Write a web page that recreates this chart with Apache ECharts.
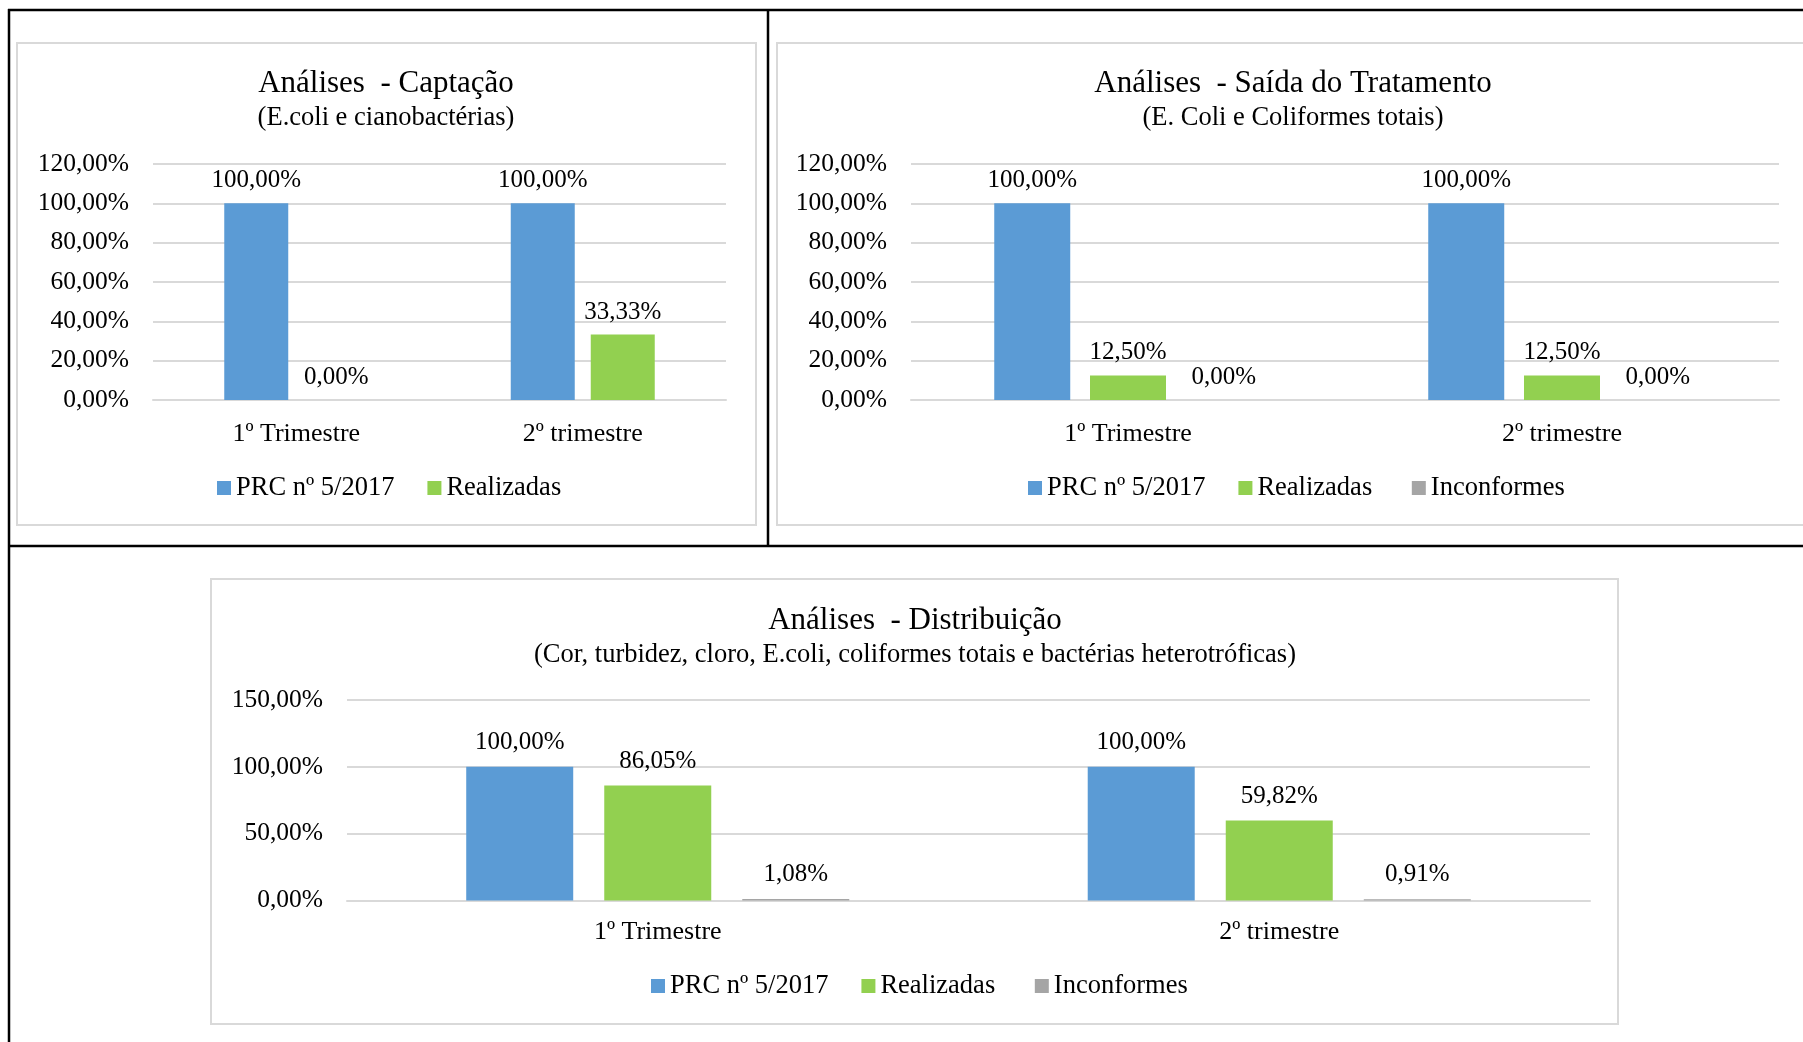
<!DOCTYPE html>
<html>
<head>
<meta charset="utf-8">
<script src="https://cdn.jsdelivr.net/npm/echarts@6/dist/echarts.min.js"></script>
<style>
html,body{margin:0;padding:0;background:#fff;}
#c{width:1803px;height:1042px;}
</style>
</head>
<body>
<div id="c"></div>
<script>
// ---- data ----
const categories = ['1º Trimestre', '2º trimestre'];
const seriesNames = ['PRC nº 5/2017', 'Realizadas', 'Inconformes'];

const captacaoPRC = [1.0, 1.0];
const captacaoRealizadas = [0.0, 0.3333];

const saidaPRC = [1.0, 1.0];
const saidaRealizadas = [0.125, 0.125];
const saidaInconformes = [0.0, 0.0];

const distPRC = [1.0, 1.0];
const distRealizadas = [0.8605, 0.5982];
const distInconformes = [0.0108, 0.0091];

const titles = ['Análises  - Captação', 'Análises  - Saída do Tratamento', 'Análises  - Distribuição'];
const subtitles = ['(E.coli e cianobactérias)', '(E. Coli e Coliformes totais)', '(Cor, turbidez, cloro, E.coli, coliformes totais e bactérias heterotróficas)'];

// ---- styling ----
const FONT = '"Liberation Serif", "Times New Roman", serif';
const COLORS = ['#5b9bd5', '#92d050', '#a5a5a5'];
const GRID = '#d9d9d9';
const pct = v => (v * 100).toFixed(2).replace('.', ',') + '%';

const chart = echarts.init(document.getElementById('c'), null, {renderer: 'canvas'});

function yAxis(gi, max, interval) {
  return {
    type: 'value', gridIndex: gi, min: 0, max: max, interval: interval,
    axisLine: {show: false}, axisTick: {show: false},
    splitLine: {lineStyle: {color: GRID, width: 2}},
    axisLabel: {formatter: pct, fontFamily: FONT, fontSize: 25.5, color: '#000', margin: 24, padding: [4, 0, 0, 0]}
  };
}
function xAxis(gi, margin) {
  return {
    type: 'category', gridIndex: gi, data: categories,
    axisLine: {lineStyle: {color: GRID, width: 2}}, axisTick: {show: false},
    axisLabel: {fontFamily: FONT, fontSize: 26, color: '#000', margin: margin}
  };
}
function bar(name, data, gi, colorIdx, width, gap, dist) {
  return {
    type: 'bar', name: name, data: data, xAxisIndex: gi, yAxisIndex: gi,
    barWidth: width, barGap: gap, itemStyle: {color: COLORS[colorIdx]},
    label: {show: true, position: 'top', distance: dist, formatter: p => pct(p.value),
            fontFamily: FONT, fontSize: 25, color: '#000'},
    emphasis: {disabled: true}, animation: false
  };
}
function titlePair(i, cx, y1, y2) {
  return [
    {text: titles[i], left: cx, top: y1, textAlign: 'center',
     textStyle: {fontFamily: FONT, fontSize: 31, fontWeight: 'normal', color: '#000', lineHeight: 32}},
    {text: subtitles[i], left: cx, top: y2, textAlign: 'center',
     textStyle: {fontFamily: FONT, fontSize: 26.5, fontWeight: 'normal', color: '#000', lineHeight: 28}}
  ];
}
function legend(left, top, names) {
  return {
    left: left, top: top, data: names, icon: 'rect', itemWidth: 14, itemHeight: 14, itemGap: 33,
    formatter: n => (n === 'Realizadas' && names.length > 2) ? n + ' ' : n,
    textStyle: {fontFamily: FONT, fontSize: 26.5, color: '#000', lineHeight: 28},
    selectedMode: false
  };
}

const option = {
  backgroundColor: '#fff',
  animation: false,
  title: [].concat(titlePair(0, 381, 63, 99), titlePair(1, 1288, 63, 99), titlePair(2, 910, 600, 636)),
  legend: [
    legend(212, 469, seriesNames.slice(0, 2)),
    legend(1023, 469, seriesNames),
    legend(646, 967, seriesNames)
  ],
  grid: [
    {left: 153, top: 164, width: 573, height: 236},
    {left: 911, top: 164, width: 868, height: 236},
    {left: 347, top: 700, width: 1243, height: 200.5}
  ],
  xAxis: [xAxis(0, 21), xAxis(1, 21), xAxis(2, 19)],
  yAxis: [yAxis(0, 1.2, 0.2), yAxis(1, 1.2, 0.2), yAxis(2, 1.5, 0.5)],
  series: [
    bar(seriesNames[0], captacaoPRC, 0, 0, 64, '25%', 10),
    bar(seriesNames[1], captacaoRealizadas, 0, 1, 64, '25%', 10),
    bar(seriesNames[0], saidaPRC, 1, 0, 76, '26%', 10),
    bar(seriesNames[1], saidaRealizadas, 1, 1, 76, '26%', 10),
    bar(seriesNames[2], saidaInconformes, 1, 2, 76, '26%', 10),
    bar(seriesNames[0], distPRC, 2, 0, 107, '29%', 12),
    bar(seriesNames[1], distRealizadas, 2, 1, 107, '29%', 12),
    bar(seriesNames[2], distInconformes, 2, 2, 107, '29%', 12)
  ],
  graphic: [
    {type: 'rect', shape: {x: 17, y: 43, width: 739, height: 482}, style: {fill: null, stroke: GRID, lineWidth: 2}, z: -1},
    {type: 'rect', shape: {x: 777, y: 43, width: 1040, height: 482}, style: {fill: null, stroke: GRID, lineWidth: 2}, z: -1},
    {type: 'rect', shape: {x: 211, y: 579, width: 1407, height: 445}, style: {fill: null, stroke: GRID, lineWidth: 2}, z: -1},
    {type: 'line', shape: {x1: 8, y1: 10, x2: 1803, y2: 10}, style: {stroke: '#000', lineWidth: 2.5}},
    {type: 'line', shape: {x1: 9, y1: 9, x2: 9, y2: 1042}, style: {stroke: '#000', lineWidth: 2.5}},
    {type: 'line', shape: {x1: 768, y1: 9, x2: 768, y2: 546}, style: {stroke: '#000', lineWidth: 2.5}},
    {type: 'line', shape: {x1: 8, y1: 546, x2: 1803, y2: 546}, style: {stroke: '#000', lineWidth: 2.5}}
  ]
};
chart.setOption(option);
</script>
</body>
</html>
